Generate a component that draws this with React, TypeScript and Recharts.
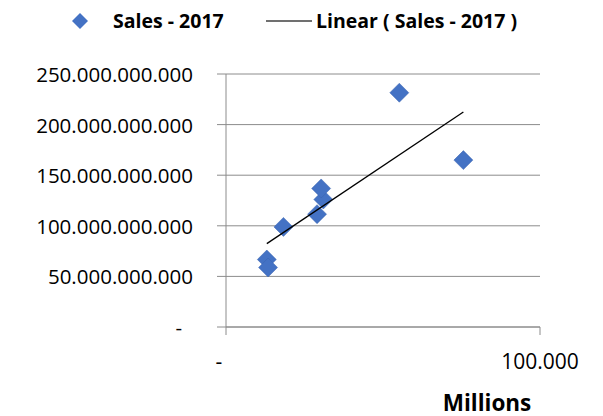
import { ScatterChart, Scatter, XAxis, YAxis, CartesianGrid, Legend } from "recharts";

// revenue in millions (x) vs 2017 sales (y)
const revenueMillions = [13000, 13400, 18300, 29000, 31000, 30300, 55200, 75600];
const sales2017 = [66.7e9, 58.8e9, 98.9e9, 111.5e9, 126e9, 136.9e9, 231.5e9, 164.9e9];
const xTicks = [0, 100000];
const yTicks = [0, 50e9, 100e9, 150e9, 200e9, 250e9];

const FONT = "'Open Sans', 'Liberation Sans', sans-serif";
const GRID = "#8c8c8c";
const BLUE = "#4472C4";

const points = revenueMillions.map((x, i) => ({ x, y: sales2017[i] }));

// least squares trendline over the data range
function linearFit() {
  const n = points.length;
  const mx = points.reduce((s, p) => s + p.x, 0) / n;
  const my = points.reduce((s, p) => s + p.y, 0) / n;
  let sxy = 0;
  let sxx = 0;
  for (const p of points) {
    sxy += (p.x - mx) * (p.y - my);
    sxx += (p.x - mx) * (p.x - mx);
  }
  const slope = sxy / sxx;
  const lo = Math.min(...revenueMillions);
  const hi = Math.max(...revenueMillions);
  return [
    { x: lo, y: my + slope * (lo - mx) },
    { x: hi, y: my + slope * (hi - mx) },
  ];
}
const trend = linearFit();

const fmt = (v: number) =>
  v === 0 ? "-" : Math.round(v).toString().replace(/\B(?=(\d{3})+(?!\d))/g, ".");

function Diamond(props: any) {
  const { cx, cy } = props;
  const r = 9.5;
  return (
    <polygon
      points={`${cx},${cy - r} ${cx + r},${cy} ${cx},${cy + r} ${cx - r},${cy}`}
      fill={BLUE}
      stroke="#3a64b0"
      strokeWidth={0.5}
    />
  );
}

const NoDot = () => <g />;

function YTick({ x, y, payload }: any) {
  const zero = payload.value === 0;
  return (
    <text
      x={zero ? x - 11 : x}
      y={y}
      textAnchor="end"
      dominantBaseline="central"
      fontFamily={FONT}
      fontSize={20.5}
      fill="#000"
    >
      {fmt(payload.value)}
    </text>
  );
}

function XTick({ x, y, payload }: any) {
  const zero = payload.value === 0;
  return (
    <text
      x={zero ? x - 7 : x}
      y={y}
      dy="0.71em"
      textAnchor="middle"
      fontFamily={FONT}
      fontSize={21}
      fill="#000"
    >
      {fmt(payload.value)}
    </text>
  );
}

function renderLegend() {
  const label = { position: "absolute" as const, top: 8, lineHeight: "26px", whiteSpace: "nowrap" as const };
  return (
    <div style={{ position: "relative", width: 603, height: 42, fontFamily: FONT, fontWeight: 700, fontSize: 19.5, color: "#000" }}>
      <svg width={16} height={16} style={{ position: "absolute", left: 72, top: 13 }}>
        <polygon points="8,0 16,8 8,16 0,8" fill={BLUE} />
      </svg>
      <span style={{ ...label, left: 113 }}>Sales - 2017</span>
      <svg width={46} height={4} style={{ position: "absolute", left: 266, top: 19 }}>
        <line x1={0} y1={2} x2={46} y2={2} stroke="#404040" strokeWidth={1.5} />
      </svg>
      <span style={{ ...label, left: 316 }}>Linear ( Sales - 2017 )</span>
    </div>
  );
}

export default function App() {
  return (
    <div style={{ position: "absolute", left: 0, top: 0, background: "#fff" }}>
      <ScatterChart width={603} height={416} margin={{ top: 32, right: 63, left: 0, bottom: 0 }}>
        <CartesianGrid vertical={false} stroke={GRID} />
        <XAxis
          type="number"
          dataKey="x"
          domain={[0, 100000]}
          ticks={xTicks}
          height={89}
          stroke={GRID}
          tickSize={8}
          tickMargin={19}
          tick={<XTick />}
          label={(p: any) => {
            const vb = p.viewBox;
            return (
              <text
                x={vb.x + vb.width - 53}
                y={vb.y + 75}
                textAnchor="middle"
                dominantBaseline="central"
                fontFamily={FONT}
                fontWeight={700}
                fontSize={22.5}
                fill="#000"
              >
                Millions
              </text>
            );
          }}
        />
        <YAxis
          type="number"
          dataKey="y"
          domain={[0, 250e9]}
          ticks={yTicks}
          width={226}
          stroke={GRID}
          tickSize={9}
          tickMargin={24}
          tick={<YTick />}
        />
        <Legend verticalAlign="top" content={renderLegend} wrapperStyle={{ top: 0, left: 0 }} />
        <Scatter name="Sales - 2017" data={points} shape={<Diamond />} isAnimationActive={false} />
        <Scatter
          name="Linear ( Sales - 2017 )"
          data={trend}
          line={{ stroke: "#000", strokeWidth: 1.3 }}
          shape={<NoDot />}
          isAnimationActive={false}
        />
      </ScatterChart>
    </div>
  );
}
